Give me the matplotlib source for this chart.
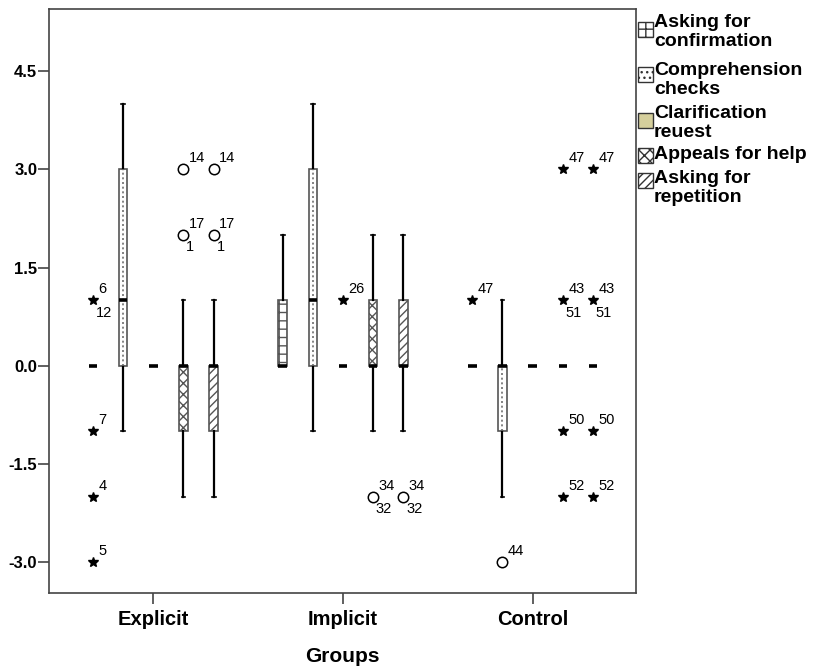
import matplotlib
matplotlib.use('Agg')
import matplotlib.pyplot as plt
from matplotlib.patches import Rectangle

plt.rcParams['font.family'] = ['Liberation Sans', 'DejaVu Sans']
plt.rcParams['hatch.linewidth'] = 1.0

groups = ['Explicit', 'Implicit', 'Control']
strategies = ['Asking for\nconfirmation', 'Comprehension\nchecks', 'Clarification\nreuest',
              'Appeals for help', 'Asking for\nrepetition']

# box summaries: one row per strategy, one column per group (Explicit, Implicit, Control)
whis_lo = [[0, 0, 0], [-1, -1, -2], [0, 0, 0], [-2, -1, 0], [-2, -1, 0]]
box_q1 = [[0, 0, 0], [0, 0, -1], [0, 0, 0], [-1, 0, 0], [-1, 0, 0]]
medians = [[0, 0, 0], [1, 1, 0], [0, 0, 0], [0, 0, 0], [0, 0, 0]]
box_q3 = [[0, 1, 0], [3, 3, 0], [0, 0, 0], [0, 1, 0], [0, 1, 0]]
whis_hi = [[0, 2, 0], [4, 4, 1], [0, 0, 0], [1, 2, 0], [1, 2, 0]]

# outlying cases: (strategy, group, value, marker, case above, case below)
outliers = [
    (0, 0, 1, '*', '6', '12'),
    (0, 0, -1, '*', '7', ''),
    (0, 0, -2, '*', '4', ''),
    (0, 0, -3, '*', '5', ''),
    (3, 0, 3, 'o', '14', ''),
    (3, 0, 2, 'o', '17', '1'),
    (4, 0, 3, 'o', '14', ''),
    (4, 0, 2, 'o', '17', '1'),
    (2, 1, 1, '*', '26', ''),
    (3, 1, -2, 'o', '34', '32'),
    (4, 1, -2, 'o', '34', '32'),
    (0, 2, 1, '*', '47', ''),
    (1, 2, -3, 'o', '44', ''),
    (3, 2, 3, '*', '47', ''),
    (3, 2, 1, '*', '43', '51'),
    (3, 2, -1, '*', '50', ''),
    (3, 2, -2, '*', '52', ''),
    (4, 2, 3, '*', '47', ''),
    (4, 2, 1, '*', '43', '51'),
    (4, 2, -1, '*', '50', ''),
    (4, 2, -2, '*', '52', ''),
]

face_colors = ['white', 'white', '#d5cf9c', 'white', 'white']
hatches = ['++', '', '', 'xxx', '////']
legend_hatches = ['++', '...', '', 'xxx', '////']
offsets = [-0.318, -0.159, 0.0, 0.159, 0.318]
edge = '#555555'

fig = plt.figure(figsize=(8.23, 6.66), dpi=100)
ax = fig.add_axes([49 / 823, 73 / 666, 587 / 823, 584 / 666])

for s in range(len(strategies)):
    pos = [g + offsets[s] for g in range(len(groups))]
    stats = [dict(whislo=whis_lo[s][g], q1=box_q1[s][g], med=medians[s][g],
                  q3=box_q3[s][g], whishi=whis_hi[s][g], fliers=[])
             for g in range(len(groups))]
    ax.bxp(stats, positions=pos, widths=0.045, capwidths=0.02, patch_artist=True,
           showfliers=False, manage_ticks=False,
           boxprops=dict(facecolor=face_colors[s], edgecolor=edge, hatch=hatches[s], lw=1.2),
           medianprops=dict(color='black', lw=2.6, solid_capstyle='butt', zorder=4),
           whiskerprops=dict(color='black', lw=1.6),
           capprops=dict(color='black', lw=1.2))
    if s == 1:
        ax.vlines(pos, box_q1[s], box_q3[s], colors='#707070',
                  linestyles=(0, (1.2, 1.6)), lw=1.2, zorder=3)

for s, g, v, m, up, low in outliers:
    x = g + offsets[s]
    if m == '*':
        ax.plot(x, v, marker='*', ms=7, color='black', ls='none', zorder=5)
    else:
        ax.plot(x, v, marker='o', ms=7.5, mfc='white', mec='black', mew=1.1, ls='none', zorder=5)
    if up:
        ax.annotate(up, (x, v), xytext=(4, 3), textcoords='offset points',
                    fontsize=10.5, ha='left', va='bottom')
    if low:
        ax.annotate(low, (x, v), xytext=(2, -4), textcoords='offset points',
                    fontsize=10.5, ha='left', va='top')

ax.set_xlim(-0.55, 2.545)
ax.set_ylim(-3.47, 5.45)
ax.set_yticks([-3.0, -1.5, 0.0, 1.5, 3.0, 4.5])
ax.set_yticklabels(['-3.0', '-1.5', '0.0', '1.5', '3.0', '4.5'])
ax.set_xticks(range(len(groups)))
ax.set_xticklabels(groups)
for lab in ax.get_xticklabels() + ax.get_yticklabels():
    lab.set_fontweight('bold')
ax.tick_params(axis='y', length=8, width=1.2, color='#444444', pad=0.5, labelsize=12)
ax.tick_params(axis='x', length=8, width=1.2, color='#444444', pad=4, labelsize=14.5)
for sp in ax.spines.values():
    sp.set_color('#444444')
    sp.set_linewidth(1.2)
ax.set_xlabel('Groups', fontsize=15, fontweight='bold', labelpad=13)

# legend drawn beside the frame, one patch per strategy
patch_tops = [22, 67, 113, 148, 173]
text_tops = [14, 62, 105, 146, 170]
for s in range(len(strategies)):
    fig.add_artist(Rectangle((638 / 823, 1 - (patch_tops[s] + 15) / 666), 15 / 823, 15 / 666,
                             transform=fig.transFigure, facecolor=face_colors[s],
                             edgecolor='#333333', hatch=legend_hatches[s], lw=1.0))
    fig.text(654 / 823, 1 - text_tops[s] / 666, strategies[s], fontsize=14,
             fontweight='bold', ha='left', va='top', linespacing=1.18)

fig.savefig('out.png', dpi=100)
